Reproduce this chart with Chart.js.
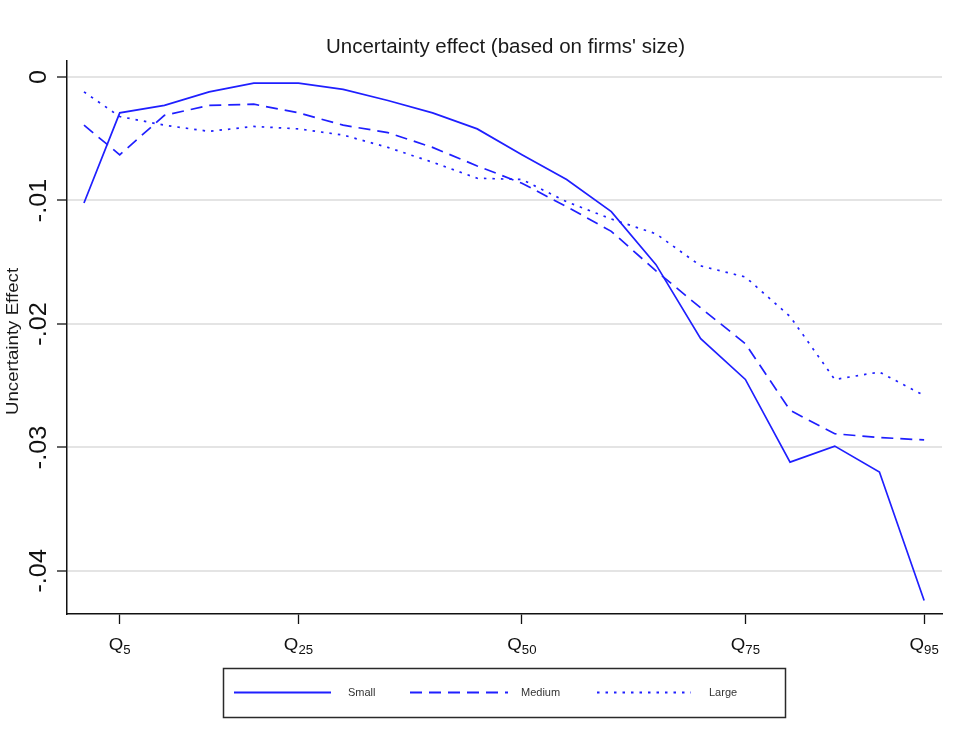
<!DOCTYPE html>
<html>
<head>
<meta charset="utf-8">
<title>Uncertainty effect (based on firms' size)</title>
<script src="https://cdn.jsdelivr.net/npm/chart.js@4/dist/chart.umd.min.js"></script>
<style>
  html, body { margin: 0; padding: 0; background: #fff; }
  #wrap { width: 966px; height: 754px; }
</style>
</head>
<body>
<div id="wrap"><canvas id="chart" width="966" height="754"></canvas></div>
<script>
// Quantile positions of the estimates
const quantiles = [1, 5, 10, 15, 20, 25, 30, 35, 40, 45, 50, 55, 60, 65, 70, 75, 80, 85, 90, 95];

// Estimated uncertainty effect by firm size
const small  = [-0.0102, -0.0029, -0.0023, -0.0012, -0.0005, -0.0005, -0.0010, -0.0019, -0.0029, -0.0042,
                -0.0063, -0.0083, -0.0109, -0.0152, -0.0212, -0.0245, -0.0312, -0.0299, -0.0320, -0.0424];
const medium = [-0.0039, -0.0063, -0.0031, -0.0023, -0.0022, -0.0029, -0.0039, -0.0045, -0.0057, -0.0072,
                -0.0086, -0.0105, -0.0125, -0.0157, -0.0187, -0.0216, -0.0270, -0.0289, -0.0292, -0.0294];
const large  = [-0.0012, -0.0032, -0.0039, -0.0044, -0.0040, -0.0042, -0.0047, -0.0057, -0.0069, -0.0082,
                -0.0083, -0.0101, -0.0115, -0.0127, -0.0153, -0.0162, -0.0194, -0.0245, -0.0239, -0.0258];

const seriesNames = ['Small', 'Medium', 'Large'];

// Axis ticks
const xTicks = [5, 25, 50, 75, 95];
const yTicks = [0, -0.01, -0.02, -0.03, -0.04];
const yTickLabels = ['0', '-.01', '-.02', '-.03', '-.04'];

const titleText = "Uncertainty effect (based on firms' size)";
const yTitleText = 'Uncertainty Effect';

const LINE = '#1f1fff';
const FONT = "'Liberation Sans', Arial, Helvetica, sans-serif";

const toPoints = vals => vals.map((v, i) => ({ x: quantiles[i], y: v }));

// Text helper: optional rotation and horizontal stretch
function drawText(ctx, text, x, y, o) {
  ctx.save();
  ctx.translate(x, y);
  if (o.rot) ctx.rotate(o.rot);
  if (o.sx) ctx.scale(o.sx, 1);
  ctx.font = (o.size || 12) + 'px ' + FONT;
  ctx.fillStyle = o.color || '#111';
  ctx.textAlign = o.align || 'center';
  ctx.textBaseline = o.baseline || 'alphabetic';
  ctx.fillText(text, 0, 0);
  ctx.restore();
}

const textPlugin = {
  id: 'stataText',
  afterDraw(chart) {
    const ctx = chart.ctx;
    const area = chart.chartArea;
    const xs = chart.scales.x, ys = chart.scales.y;

    // Title
    drawText(ctx, titleText, (area.left + area.right) / 2 + 1, 53, { size: 20.5, color: '#1a1a1a' });

    // Y axis title (rotated)
    drawText(ctx, yTitleText, 18, (area.top + area.bottom) / 2 + 4, { size: 17, sx: 1.1, rot: -Math.PI / 2, color: '#1a1a1a' });

    // Y tick labels (rotated)
    yTicks.forEach((v, i) => {
      drawText(ctx, yTickLabels[i], 46, ys.getPixelForValue(v), { size: 23, sx: 1.1, rot: -Math.PI / 2, color: '#111' });
    });

    // X tick labels: Q with subscript quantile
    const SX = 1.1;
    xTicks.forEach(v => {
      const px = xs.getPixelForValue(v);
      const sub = String(v);
      ctx.save();
      ctx.font = '17px ' + FONT;
      const wQ = ctx.measureText('Q').width * SX;
      ctx.font = '12px ' + FONT;
      const wS = ctx.measureText(sub).width * SX;
      ctx.restore();
      const left = px - (wQ + wS) / 2;
      drawText(ctx, 'Q', left, 650, { size: 17, sx: SX, align: 'left', color: '#111' });
      drawText(ctx, sub, left + wQ, 654, { size: 12, sx: SX, align: 'left', color: '#111' });
    });

    // Legend box
    const lb = { x: 223, y: 668, w: 562, h: 49 };
    ctx.save();
    ctx.strokeStyle = '#2a2a2a';
    ctx.lineWidth = 1.5;
    ctx.strokeRect(lb.x + 0.5, lb.y + 0.5, lb.w, lb.h);
    const cy = lb.y + lb.h / 2;
    const items = [
      { x0: 234, x1: 331, tx: 348 },
      { x0: 410, x1: 508, tx: 521 },
      { x0: 597, x1: 691, tx: 709 }
    ];
    chart.data.datasets.forEach((ds, i) => {
      const it = items[i];
      ctx.strokeStyle = ds.borderColor;
      ctx.lineWidth = 2;
      ctx.setLineDash(ds.borderDash || []);
      ctx.beginPath();
      ctx.moveTo(it.x0, cy);
      ctx.lineTo(it.x1, cy);
      ctx.stroke();
      ctx.setLineDash([]);
      drawText(ctx, ds.label, it.tx, cy, { size: 11, align: 'left', baseline: 'middle', color: '#333' });
    });
    ctx.restore();
  }
};

new Chart(document.getElementById('chart'), {
  type: 'line',
  data: {
    datasets: [
      { label: seriesNames[0], data: toPoints(small),  borderColor: LINE, borderWidth: 1.7, borderDash: [] },
      { label: seriesNames[1], data: toPoints(medium), borderColor: LINE, borderWidth: 1.7, borderDash: [12, 7] },
      { label: seriesNames[2], data: toPoints(large),  borderColor: LINE, borderWidth: 1.7, borderDash: [2.5, 6] }
    ]
  },
  options: {
    responsive: false,
    animation: false,
    elements: {
      point: { radius: 0, hoverRadius: 0 },
      line: { tension: 0, fill: false, borderCapStyle: 'butt' }
    },
    layout: { padding: { left: 0, top: 61, right: 24, bottom: 0 } },
    plugins: {
      legend: { display: false },
      title: { display: false },
      tooltip: { enabled: false }
    },
    scales: {
      x: {
        type: 'linear',
        min: -0.9,
        max: 97,
        afterBuildTicks: s => { s.ticks = xTicks.map(v => ({ value: v })); },
        afterFit: s => { s.height = 140; },
        ticks: { display: false },
        grid: { drawOnChartArea: false, drawTicks: true, tickLength: 10, tickColor: '#111', tickWidth: 1.3 },
        border: { display: true, color: '#111', width: 1.5 }
      },
      y: {
        type: 'linear',
        min: -0.0435,
        max: 0.0013,
        afterBuildTicks: s => { s.ticks = yTicks.map(v => ({ value: v })); },
        afterFit: s => { s.width = 67; },
        ticks: { display: false },
        grid: { color: '#e4e4e4', lineWidth: 2, drawTicks: true, tickLength: 10, tickColor: '#111', tickWidth: 1.3 },
        border: { display: true, color: '#111', width: 1.5 }
      }
    }
  },
  plugins: [textPlugin]
});
</script>
</body>
</html>
